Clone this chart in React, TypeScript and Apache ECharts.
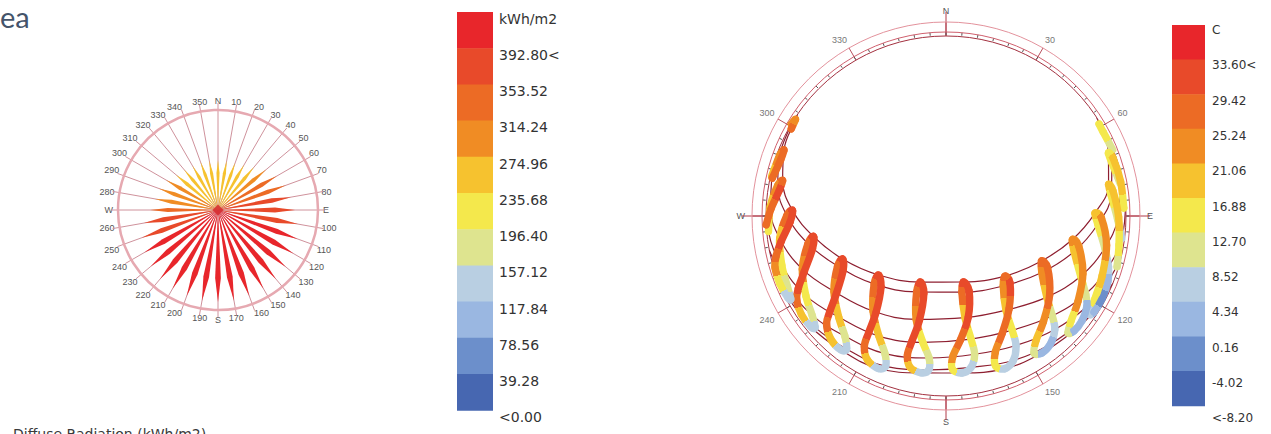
import React, { useEffect, useRef } from "react";
import * as echarts from "echarts";

// ---------------- shared legend palette (top -> bottom) ----------------
const LEGEND_COLORS = ["#e8262b", "#e84a2a", "#ec6b25", "#f08c24", "#f6c22f", "#f4e84c", "#dee48f", "#b9cfe2", "#9ab7e1", "#6c8fcb", "#4767b1"];
const RADIATION_LABELS = ["kWh/m2", "392.80<", "353.52", "314.24", "274.96", "235.68", "196.40", "157.12", "117.84", "78.56", "39.28", "<0.00"];
const TEMPERATURE_LABELS = ["C", "33.60<", "29.42", "25.24", "21.06", "16.88", "12.70", "8.52", "4.34", "0.16", "-4.02", "<-8.20"];
const RADIATION_BREAKS = [39.28, 78.56, 117.84, 157.12, 196.4, 235.68, 274.96, 314.24, 353.52, 392.8];
const TEMPERATURE_BREAKS = [-4.02, 0.16, 4.34, 8.52, 12.7, 16.88, 21.06, 25.24, 29.42, 33.6];

// ---------------- radiation rose ----------------
const ROSE_DIRECTIONS = [0, 10, 20, 30, 40, 50, 60, 70, 80, 90, 100, 110, 120, 130, 140, 150, 160, 170, 180, 190, 200, 210, 220, 230, 240, 250, 260, 270, 280, 290, 300, 310, 320, 330, 340, 350];
const ROSE_RADIATION = [240, 240, 240, 250, 269, 302, 326, 346, 355, 370, 389, 406, 418, 425, 432, 437, 439, 442, 442, 442, 439, 437, 432, 422, 408, 389, 360, 326, 307, 302, 288, 264, 254, 245, 245, 240];

// ---------------- sun path: hourly analemmas ----------------
// [monthIndex (0 = Jan 21), azimuth deg, altitude deg, dry bulb temperature C]
const ANALEMMA_05 = [[3, 68.3, 0.3, 9.6], [4, 61.9, 0.9, 13.6], [5, 59.0, 0.7, 16.7]];
const ANALEMMA_06 = [[3, 79.5, 1.4, 9.3], [4, 72.2, 2.9, 13.3], [5, 68.8, 2.9, 16.3], [6, 70.8, 1.6, 19.3], [7, 78.8, 1.0, 18.8], [8, 87.4, 1.0, 15.3]];
const ANALEMMA_07 = [[2, 97.3, 1.4, 5.0], [3, 91.0, 4.2, 10.1], [4, 82.8, 6.8, 14.2], [5, 79.0, 7.2, 17.3], [6, 81.3, 5.6, 20.2], [7, 90.3, 3.7, 19.7], [8, 99.5, 2.3, 16.3], [9, 106.5, 0.8, 11.4]];
const ANALEMMA_08 = [[0, 118.1, 1.7, -0.6], [1, 112.0, 2.7, 1.6], [2, 107.3, 4.9, 6.9], [3, 101.4, 9.0, 12.1], [4, 93.1, 14.0, 16.4], [5, 88.9, 15.5, 19.6], [6, 90.7, 12.3, 22.2], [7, 100.3, 8.4, 21.7], [8, 110.9, 6.4, 18.5], [9, 119.1, 4.8, 13.7], [10, 124.3, 3.0, 7.1], [11, 123.0, 1.8, 0.2]];
const ANALEMMA_09 = [[0, 127.6, 4.2, 1.4], [1, 122.7, 6.3, 3.8], [2, 119.2, 10.0, 9.2], [3, 114.1, 16.2, 14.6], [4, 105.5, 23.5, 19.2], [5, 100.5, 25.7, 22.6], [6, 102.7, 22.0, 24.8], [7, 112.9, 15.7, 24.3], [8, 122.9, 11.4, 21.4], [9, 130.1, 8.3, 16.8], [10, 133.8, 5.5, 9.6], [11, 131.9, 4.0, 2.0]];
const ANALEMMA_10 = [[0, 140.8, 7.4, 3.4], [1, 136.2, 11.4, 6.0], [2, 133.2, 17.1, 11.5], [3, 128.8, 25.3, 17.1], [4, 120.5, 34.4, 22.0], [5, 115.2, 37.2, 25.6], [6, 117.0, 33.0, 27.4], [7, 127.4, 24.8, 26.9], [8, 137.4, 18.1, 24.3], [9, 144.2, 13.1, 19.9], [10, 147.3, 8.5, 12.1], [11, 145.0, 6.4, 3.8]];
const ANALEMMA_11 = [[0, 155.0, 10.3, 5.1], [1, 151.6, 16.4, 7.9], [2, 149.9, 24.0, 13.6], [3, 147.5, 34.2, 19.4], [4, 140.7, 44.8, 24.5], [5, 135.5, 47.9, 28.2], [6, 136.3, 43.7, 29.7], [7, 145.8, 33.9, 29.2], [8, 154.5, 24.8, 26.8], [9, 160.1, 17.6, 22.6], [10, 161.7, 10.9, 14.4], [11, 158.9, 8.2, 5.4]];
const ANALEMMA_12 = [[0, 170.6, 13.3, 6.5], [1, 168.3, 19.4, 9.3], [2, 168.5, 27.2, 15.2], [3, 169.4, 38.3, 21.0], [4, 168.2, 51.1, 26.3], [5, 165.2, 55.9, 30.2], [6, 162.9, 50.8, 31.5], [7, 167.6, 38.2, 31.0], [8, 173.4, 27.5, 28.8], [9, 177.2, 19.7, 24.6], [10, 177.6, 13.3, 16.0], [11, 174.2, 11.1, 6.6]];
const ANALEMMA_13 = [[0, 186.4, 12.6, 7.5], [1, 186.8, 18.5, 10.4], [2, 190.4, 25.8, 16.4], [3, 196.1, 36.2, 22.3], [4, 201.1, 49.3, 27.7], [5, 201.1, 54.6, 31.7], [6, 196.0, 49.8, 32.8], [7, 194.3, 36.4, 32.3], [8, 195.2, 25.3, 30.2], [9, 195.5, 17.8, 26.2], [10, 193.3, 12.2, 17.3], [11, 188.9, 10.6, 7.5]];
const ANALEMMA_14 = [[0, 201.9, 9.0, 8.0], [1, 203.9, 14.7, 11.0], [2, 209.2, 21.2, 17.0], [3, 217.5, 30.1, 23.0], [4, 226.6, 40.6, 28.5], [5, 228.8, 45.2, 32.5], [6, 222.5, 41.9, 33.5], [7, 216.0, 30.5, 33.0], [8, 213.6, 20.3, 31.0], [9, 212.1, 13.2, 27.0], [10, 208.6, 8.0, 18.0], [11, 203.9, 6.6, 8.0]];
const ANALEMMA_15 = [[0, 216.8, 7.0, 7.9], [1, 220.1, 11.5, 10.9], [2, 226.7, 16.3, 16.9], [3, 236.1, 22.5, 22.9], [4, 245.2, 30.3, 28.3], [5, 247.4, 34.0, 32.3], [6, 242.0, 31.7, 33.4], [7, 234.8, 23.0, 32.9], [8, 230.7, 15.1, 30.8], [9, 227.9, 9.5, 26.8], [10, 223.1, 5.7, 17.9], [11, 218.1, 4.9, 7.9]];
const ANALEMMA_16 = [[0, 229.6, 4.1, 7.5], [1, 233.5, 6.7, 10.4], [2, 240.4, 9.4, 16.4], [3, 249.7, 13.4, 22.3], [4, 258.7, 19.6, 27.7], [5, 261.2, 23.0, 31.7], [6, 256.1, 21.2, 32.8], [7, 248.6, 13.9, 32.3], [8, 244.0, 7.9, 30.2], [9, 240.7, 4.4, 26.2], [10, 235.7, 2.5, 17.3], [11, 230.6, 2.6, 7.5]];
const ANALEMMA_17 = [[0, 241.9, 2.0, 6.5], [1, 246.3, 3.3, 9.3], [2, 253.3, 4.3, 15.2], [3, 262.3, 6.1, 21.0], [4, 270.2, 10.4, 26.3], [5, 272.1, 13.2, 30.2], [6, 267.8, 12.0, 31.5], [7, 261.2, 6.6, 31.0], [8, 256.7, 2.7, 28.8], [9, 253.2, 0.7, 24.6], [10, 247.9, 0.3, 16.0], [11, 242.6, 1.0, 6.6]];
const ANALEMMA_18 = [[2, 265.0, 0.9, 13.6], [3, 273.0, 2.0, 19.4], [4, 280.3, 4.5, 24.5], [5, 282.3, 6.4, 28.2], [6, 278.8, 5.7, 29.7], [7, 272.3, 2.4, 29.2], [8, 267.2, 0.0, 26.8]];
const ANALEMMA_19 = [[3, 282.9, 0.6, 17.7], [4, 290.2, 1.5, 22.6], [5, 292.2, 2.5, 26.2], [6, 288.8, 2.7, 28.0], [7, 282.3, 1.1, 27.5]];
const ANALEMMA_20 = [[4, 300.7, 0.0, 21.1], [5, 302.7, 0.6, 24.6], [6, 299.4, 1.2, 26.5]];

const ANALEMMA_SETS = [ANALEMMA_05, ANALEMMA_06, ANALEMMA_07, ANALEMMA_08, ANALEMMA_09, ANALEMMA_10, ANALEMMA_11, ANALEMMA_12, ANALEMMA_13, ANALEMMA_14, ANALEMMA_15, ANALEMMA_16, ANALEMMA_17, ANALEMMA_18, ANALEMMA_19, ANALEMMA_20];
const ANALEMMA_CLOSED = [false, false, false, true, true, true, true, true, true, true, true, true, true, false, false, false];

// day arcs (21st of the month) and their horizon crossings
const DAY_ARC_MONTHS = [5, 4, 3, 2, 1, 0, 11];
const SUNRISE_AZIMUTH = [57, 59.5, 67.5, 85.5, 103, 112, 117];
const SUNSET_AZIMUTH = [304.5, 301, 284.5, 274, 259, 248.5, 247];

const SUN_ANGLE_LABELS = [30, 60, 120, 150, 210, 240, 300, 330];
const CARDINALS: Record<number, string> = { 0: "N", 90: "E", 180: "S", 270: "W" };

function binColor(v: number, breaks: number[]) {
  let i = 0;
  while (i < breaks.length && v >= breaks[i]) i++;
  return LEGEND_COLORS[LEGEND_COLORS.length - 1 - i];
}

function analemmaRenderer(pts: number[][], closed: boolean) {
  const n = pts.length;
  const idx = (k: number) => (closed ? ((k % n) + n) % n : Math.max(0, Math.min(n - 1, k)));
  return (params: any, api: any) => {
    const i = params.dataIndex;
    const pt = (k: number) => {
      const p = pts[idx(k)];
      return api.coord([p[2], p[1]]);
    };
    if (!closed && i === n - 1) {
      const c = pt(i);
      return { type: "circle", shape: { cx: c[0], cy: c[1], r: 3.7 }, style: { fill: binColor(pts[i][3], TEMPERATURE_BREAKS) } };
    }
    const p0 = pt(i - 1);
    const p1 = pt(i);
    const p2 = pt(i + 1);
    const p3 = pt(i + 2);
    const c1 = [p1[0] + (p2[0] - p0[0]) / 6, p1[1] + (p2[1] - p0[1]) / 6];
    const c2 = [p2[0] - (p3[0] - p1[0]) / 6, p2[1] - (p3[1] - p1[1]) / 6];
    const colA = binColor(pts[i][3], TEMPERATURE_BREAKS);
    const colB = binColor(pts[idx(i + 1)][3], TEMPERATURE_BREAKS);
    const grad = new echarts.graphic.LinearGradient(p1[0], p1[1], p2[0] + 0.01, p2[1] + 0.01, [
      { offset: 0, color: colA },
      { offset: 0.5, color: colA },
      { offset: 0.5, color: colB },
      { offset: 1, color: colB },
    ], true);
    return {
      type: "bezierCurve",
      shape: { x1: p1[0], y1: p1[1], x2: p2[0], y2: p2[1], cpx1: c1[0], cpy1: c1[1], cpx2: c2[0], cpy2: c2[1] },
      style: { fill: "none", stroke: grad, lineWidth: 7.4, lineCap: "round" },
    };
  };
}

function hiddenRadius(polarIndex: number, extra: any = {}) {
  return { polarIndex, type: "value", show: false, axisLine: { show: false }, axisTick: { show: false }, axisLabel: { show: false }, splitLine: { show: false }, splitArea: { show: false }, ...extra };
}

export default function App() {
  const ref = useRef<HTMLDivElement>(null);
  useEffect(() => {
    if (!ref.current) return;
    const chart = echarts.init(ref.current, undefined, { renderer: "svg" });

    const series: any[] = [];
    series.push({
      type: "custom",
      coordinateSystem: "polar",
      polarIndex: 0,
      silent: true,
      z: 3,
      data: ROSE_RADIATION.map((v, i) => [v, ROSE_DIRECTIONS[i]]),
      renderItem: (params: any, api: any) => {
        const v = api.value(0);
        const a = api.value(1);
        const c = api.coord([0, a]);
        const tip = api.coord([v, a]);
        const l = api.coord([v * 0.74, a - 2.4]);
        const r = api.coord([v * 0.74, a + 2.4]);
        return { type: "polygon", shape: { points: [c, l, tip, r] }, style: { fill: binColor(v, RADIATION_BREAKS) } };
      },
    });
    series.push({
      type: "scatter",
      coordinateSystem: "polar",
      polarIndex: 0,
      silent: true,
      z: 4,
      symbol: "diamond",
      symbolSize: 11,
      itemStyle: { color: "#d7262b" },
      data: [[0, 0]],
    });

    DAY_ARC_MONTHS.forEach((m, k) => {
      const pts: number[][] = [];
      ANALEMMA_SETS.forEach((set) => set.forEach((p) => { if (p[0] === m) pts.push([p[2], p[1]]); }));
      pts.push([0, SUNRISE_AZIMUTH[k]], [0, SUNSET_AZIMUTH[k]]);
      pts.sort((a, b) => a[1] - b[1]);
      series.push({
        type: "line",
        coordinateSystem: "polar",
        polarIndex: 1,
        silent: true,
        z: 1,
        smooth: 0.4,
        showSymbol: false,
        data: pts,
        lineStyle: { color: "#8e1f30", width: 1.2 },
      });
    });

    ANALEMMA_SETS.forEach((set, k) => {
      series.push({
        type: "custom",
        coordinateSystem: "polar",
        polarIndex: 1,
        silent: true,
        z: 3,
        data: set.map((p) => [p[2], p[1], p[3]]),
        renderItem: analemmaRenderer(set, ANALEMMA_CLOSED[k]),
      });
    });

    const graphic: any[] = [];
    LEGEND_COLORS.forEach((c, i) => {
      graphic.push({ type: "rect", silent: true, shape: { x: 457, y: 12 + i * 36.2, width: 36, height: 36.8 }, style: { fill: c } });
      graphic.push({ type: "rect", silent: true, shape: { x: 1172, y: 25 + i * 34.6, width: 33, height: 35.2 }, style: { fill: c } });
    });
    RADIATION_LABELS.forEach((t, i) => {
      graphic.push({ type: "text", silent: true, x: 499, y: 18.5 + i * 36.25, style: { text: t, fill: "#333", font: '14px "DejaVu Sans"', verticalAlign: "middle", textVerticalAlign: "middle" } });
    });
    TEMPERATURE_LABELS.forEach((t, i) => {
      graphic.push({ type: "text", silent: true, x: 1212, y: 30 + i * 35.3, style: { text: t, fill: "#333", font: '12px "DejaVu Sans"', verticalAlign: "middle", textVerticalAlign: "middle" } });
    });
    graphic.push({ type: "text", silent: true, x: 0, y: 16, style: { text: "ea", fill: "#44546a", font: "29px Lato", verticalAlign: "middle", textVerticalAlign: "middle" } });
    graphic.push({ type: "text", silent: true, x: 13, y: 427, style: { text: "Diffuse Radiation (kWh/m2)", fill: "#3a3a3a", font: '14px "DejaVu Sans"', verticalAlign: "top", textVerticalAlign: "top" } });

    const option: any = {
      animation: false,
      polar: [
        { center: [218, 210], radius: 100 },
        { center: [946, 216], radius: 180 },
        { center: [946, 216], radius: 180 },
        { center: [946, 216], radius: 184 },
        { center: [946, 216], radius: 194 },
      ],
      angleAxis: [
        {
          polarIndex: 0, type: "value", min: 0, max: 360, interval: 10, startAngle: 90, clockwise: true,
          axisLine: { show: true, lineStyle: { color: "#e6a9b1", width: 2.5 } },
          axisTick: { show: true, length: 7, lineStyle: { color: "#cf929c", width: 1 } },
          splitLine: { show: true, lineStyle: { color: "#cf929c", width: 1 } },
          axisLabel: { margin: 5, fontSize: 9, color: "#555", formatter: (v: number) => (v === 360 ? "" : CARDINALS[v] ?? String(v)) },
        },
        {
          polarIndex: 1, type: "value", min: 0, max: 360, interval: 30, startAngle: 90, clockwise: true,
          axisLine: { show: true, lineStyle: { color: "#a3303f", width: 1 } },
          axisTick: { show: true, length: 14, lineStyle: { color: "#b9505e", width: 1 } },
          splitLine: { show: false },
          axisLabel: { margin: 18, fontSize: 9, color: "#777", formatter: (v: number) => (SUN_ANGLE_LABELS.indexOf(v) >= 0 ? String(v) : "") },
        },
        {
          polarIndex: 2, type: "value", min: 0, max: 360, interval: 90, startAngle: 90, clockwise: true,
          axisLine: { show: false },
          axisTick: { show: true, length: 24, lineStyle: { color: "#b03a48", width: 1 } },
          splitLine: { show: false },
          axisLabel: { margin: 21, fontSize: 9, color: "#555", formatter: (v: number) => (v === 360 ? "" : CARDINALS[v] ?? "") },
        },
        {
          polarIndex: 3, type: "value", min: 0, max: 360, interval: 5, startAngle: 90, clockwise: true,
          axisLine: { show: true, lineStyle: { color: "#d0606e", width: 1 } },
          axisTick: { show: true, inside: true, length: 3, lineStyle: { color: "#555", width: 1 } },
          splitLine: { show: false },
          axisLabel: { show: false },
        },
        {
          polarIndex: 4, type: "value", min: 0, max: 360, startAngle: 90, clockwise: true,
          axisLine: { show: true, lineStyle: { color: "#e3929c", width: 1 } },
          axisTick: { show: false },
          splitLine: { show: false },
          axisLabel: { show: false },
        },
      ],
      radiusAxis: [
        hiddenRadius(0, { min: 0, max: 480 }),
        hiddenRadius(1, { min: 0, max: 90, inverse: true }),
        hiddenRadius(2, { min: 0, max: 90 }),
        hiddenRadius(3, { min: 0, max: 90 }),
        hiddenRadius(4, { min: 0, max: 90 }),
      ],
      series,
      graphic,
    };
    chart.setOption(option);
    return () => chart.dispose();
  }, []);
  return <div ref={ref} style={{ position: "fixed", left: 0, top: 0, width: 1271, height: 434, background: "#fff" }} />;
}
